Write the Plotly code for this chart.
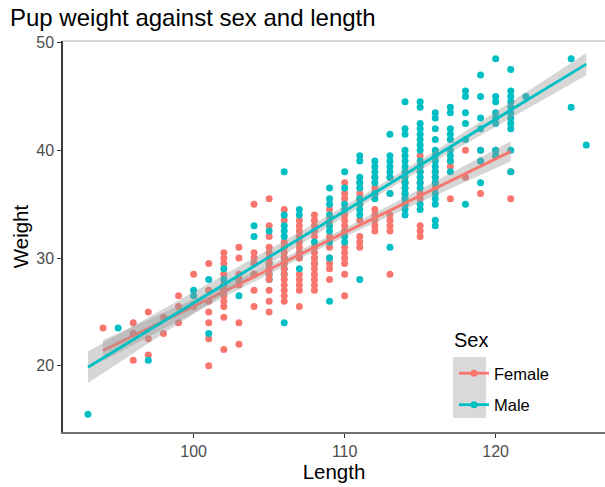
import numpy as np
import plotly.graph_objects as go

# Pup measurements, grouped by length (cm) for readability
female_length = (
    [94] + [96] * 3 + [97] * 3 + [98] * 2 + [99] * 3 + [100] * 2
    + [101] * 7 + [102] * 11 + [103] * 7 + [104] * 7 + [105] * 13
    + [106] * 14 + [107] * 13 + [108] * 14 + [109] * 8 + [110] * 13
    + [111] * 8 + [112] * 8 + [113] * 7 + [114] * 6 + [115] * 8
    + [116] * 4 + [117] * 3 + [118] * 2 + [119] * 3 + [120] * 2 + [121] * 2
)
female_weight = [
    23.5,
    24, 23, 20.5,
    25, 22.5, 21,
    24.5, 23,
    26.5, 25.5, 24,
    28.5, 25.5,
    29.5, 27, 26, 25, 24, 22.5, 20,
    30.5, 30, 29.5, 28.5, 27.5, 27, 26.5, 26, 25.5, 24.5, 21.5,
    31, 30, 28.5, 28, 27.5, 24, 22,
    35, 30.5, 30, 29.5, 28.5, 27, 25.5,
    35.5, 33, 32, 31, 30.5, 30, 29.5, 29, 28.5, 28, 27, 26, 25,
    34.5, 33.5, 31.5, 31, 30.5, 30, 29.5, 29, 28.5, 28, 27.5, 27, 26.5, 26,
    33.5, 33, 32.5, 32, 31.5, 31, 30.5, 30, 28.5, 28, 27.5, 27, 25.5,
    34, 33.5, 33, 32.5, 32, 31, 30.5, 30, 29.5, 29, 28.5, 28, 27.5, 27,
    34.5, 33.5, 32, 31, 30, 29.5, 29, 28,
    37, 36, 35.5, 34, 33.5, 33, 32.5, 31, 30.5, 30, 29.5, 28.5, 26.5,
    37, 36, 35.5, 35, 33.5, 32, 31.5, 31,
    37.5, 36.5, 36, 34.5, 34, 33.5, 33, 32.5,
    37.5, 36, 34, 33.5, 33, 32.5, 28.5,
    37, 36.5, 36, 35.5, 37, 35,
    39.5, 38, 37, 36, 35.5, 33, 32.5, 32,
    38, 37.5, 37, 36.5,
    39, 38.5, 35.5,
    40, 37.5,
    40, 39, 36,
    40, 39.5,
    38, 35.5,
]

# males listed early in the records (plotted beneath the females)
male_early_length = (
    [102] * 2 + [103] + [104] * 2 + [105] * 4 + [106] * 4
    + [107] * 2 + [108] * 2
)
male_early_weight = [
    27.5, 27,
    28,
    29.5, 28.5,
    29.5, 29, 28.5, 28,
    30, 29.5, 29, 28.5,
    30.5, 30,
    30, 29.5,
]

# remaining males (plotted on top)
male_length = (
    [93] + [95] + [97] + [100] * 2 + [101] * 2 + [102] * 2 + [103]
    + [104] * 2 + [105] + [106] * 6 + [107] * 3 + [108] + [109] * 9
    + [110] * 6 + [111] * 10 + [112] * 7 + [113] * 8 + [114] * 16
    + [115] * 16 + [116] * 16 + [117] * 9 + [118] * 6 + [119] * 7
    + [120] * 8 + [121] * 11 + [122] + [125] * 2 + [126]
)
male_weight = [
    15.5,
    23.5,
    20.5,
    27, 26.5,
    28, 23,
    29, 28,
    26.5,
    33, 32,
    32.5,
    38, 34, 33, 32.5, 32, 24,
    34.5, 34, 29,
    31.5,
    36.5, 35.5, 35, 34, 33, 32.5, 31.5, 30, 26,
    38, 36.5, 35, 34.5, 32, 31.5,
    39.5, 39, 37.5, 37, 36.5, 35.5, 35, 34.5, 34, 28,
    39, 38.5, 38, 37.5, 37, 36, 35.5,
    41.5, 39.5, 39, 38.5, 38, 37.5, 36, 31,
    44.5, 42, 41.5, 40, 39.5, 39, 38.5, 38, 37.5, 37, 36.5, 36, 35.5, 35, 34.5, 34,
    44.5, 44, 42.5, 42, 41.5, 41, 40.5, 40, 39, 38.5, 38, 37.5, 37, 36.5, 35, 34.5,
    43.5, 43, 42, 41, 40, 39.5, 39, 38.5, 38, 37.5, 37, 36, 35.5, 35, 33.5, 33,
    44, 43.5, 42, 41.5, 41, 40, 39.5, 39, 38,
    45.5, 45, 43.5, 42.5, 41, 35,
    47, 45, 43, 42, 40, 39, 37,
    48.5, 45, 44.5, 43.5, 43, 42.5, 40, 39.5,
    47.5, 45.5, 45, 44.5, 44, 43.5, 43, 42.5, 42, 40, 38,
    45,
    48.5, 44,
    40.5,
]

sexes = ["Female", "Male"]
colours = {"Female": "#F8766D", "Male": "#00BFC4"}
fx, fy = np.array(female_length, float), np.array(female_weight, float)
mex, mey = np.array(male_early_length, float), np.array(male_early_weight, float)
mx, my = np.array(male_length, float), np.array(male_weight, float)
data = {
    "Female": (fx, fy),
    "Male": (np.concatenate([mex, mx]), np.concatenate([mey, my])),
}


def lm_band(x, y, n_grid=80, t_crit=1.97):
    """Least-squares line with a 95% confidence band for the mean."""
    n = len(x)
    b, a = np.polyfit(x, y, 1)
    resid = y - (a + b * x)
    s = np.sqrt(np.sum(resid ** 2) / (n - 2))
    xbar = x.mean()
    sxx = np.sum((x - xbar) ** 2)
    xs = np.linspace(x.min(), x.max(), n_grid)
    fit = a + b * xs
    se = s * np.sqrt(1.0 / n + (xs - xbar) ** 2 / sxx)
    return xs, fit, fit - t_crit * se, fit + t_crit * se


fig = go.Figure()

# scatter points, in record order
for sex, (x, y) in [("Male", (mex, mey)), ("Female", (fx, fy)), ("Male", (mx, my))]:
    fig.add_trace(go.Scatter(
        x=x, y=y, mode="markers",
        marker=dict(color=colours[sex], size=7, line=dict(width=0)),
        showlegend=False, hoverinfo="skip",
    ))

# fitted lines with confidence ribbons
for sex in sexes:
    x, y = data[sex]
    xs, fit, lo, hi = lm_band(x, y)
    fig.add_trace(go.Scatter(
        x=np.concatenate([xs, xs[::-1]]),
        y=np.concatenate([hi, lo[::-1]]),
        fill="toself", fillcolor="rgba(153,153,153,0.4)",
        line=dict(width=0), mode="lines",
        showlegend=False, hoverinfo="skip",
    ))
    fig.add_trace(go.Scatter(
        x=xs, y=fit, mode="lines",
        line=dict(color=colours[sex], width=2.8),
        showlegend=False, hoverinfo="skip",
    ))

# legend entries: line with a point on it
for sex in sexes:
    fig.add_trace(go.Scatter(
        x=[None], y=[None], mode="lines+markers", name=sex,
        legendgroup=sex,
        line=dict(color=colours[sex], width=2.8),
        marker=dict(color=colours[sex], size=7),
    ))

font = "Liberation Sans, Arial, sans-serif"
PW, PH = 542, 391          # plot area size in pixels
L0, T0 = 63, 41            # plot area offset in pixels


def px_x(v):
    return (v - L0) / PW


def px_y(v):
    return (T0 + PH - v) / PH


fig.update_layout(
    width=605, height=487,
    margin=dict(l=L0, r=0, t=T0, b=487 - T0 - PH),
    paper_bgcolor="white", plot_bgcolor="white",
    font=dict(family=font, color="black"),
    showlegend=True,
    legend=dict(
        x=px_x(454), y=px_y(356), xref="paper", yref="paper",
        xanchor="left", yanchor="top",
        bgcolor="rgba(0,0,0,0)",
        font=dict(size=16.5, color="black"),
        itemwidth=30, tracegroupgap=7,
    ),
    xaxis=dict(
        range=[91.35, 127.24], showgrid=False, zeroline=False,
        tickvals=[100, 110, 120], ticks="outside", ticklen=4,
        tickcolor="#333333", tickwidth=1,
        tickfont=dict(size=16, color="#4D4D4D"),
        showline=True, linecolor="#707070", linewidth=2,
        title=dict(text="Length", font=dict(size=20.5, color="black"), standoff=2),
    ),
    yaxis=dict(
        range=[13.85, 50.15], showgrid=False, zeroline=False,
        tickvals=[20, 30, 40, 50], ticks="outside", ticklen=4,
        tickcolor="#333333", tickwidth=1,
        tickfont=dict(size=16, color="#4D4D4D"),
        showline=True, linecolor="#3a3a3a", linewidth=1.5,
        title=dict(text="Weight", font=dict(size=20.5, color="black"), standoff=2),
    ),
    annotations=[
        dict(text="Pup weight against sex and length",
             xref="paper", yref="paper", x=px_x(8), y=px_y(17),
             xanchor="left", yanchor="middle", showarrow=False,
             font=dict(size=24, color="black", family=font)),
        dict(text="Sex",
             xref="paper", yref="paper", x=px_x(452), y=px_y(340),
             xanchor="left", yanchor="middle", showarrow=False,
             font=dict(size=20, color="black", family=font)),
    ],
    shapes=[
        # grey key background behind the legend symbols
        dict(type="rect", xref="paper", yref="paper",
             x0=px_x(453), x1=px_x(486), y0=px_y(418), y1=px_y(357),
             fillcolor="#D9D9D9", line=dict(width=0), layer="above"),
        # thin rule along the top of the panel
        dict(type="line", xref="paper", yref="paper",
             x0=0, x1=1, y0=1, y1=1,
             line=dict(color="#B0B0B0", width=1), layer="above"),
    ],
)

fig.write_html("out.html")
